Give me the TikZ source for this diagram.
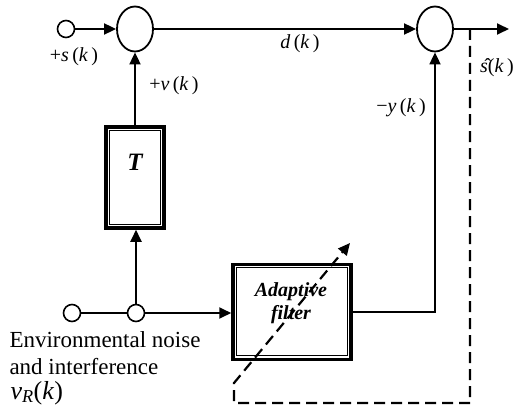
\documentclass[tikz,border=0pt]{standalone}
\usepackage{fontspec}
\setmainfont{Liberation Serif}
\usetikzlibrary{shapes.geometric, arrows.meta, positioning, calc}
\tikzset{
  port/.style={draw, circle, line width=1.6pt, minimum size=17pt, inner sep=0pt},
  adder/.style={draw, ellipse, line width=1.8pt, minimum width=36pt, minimum height=45pt, inner sep=0pt},
  block/.style={draw, line width=3.5pt, inner sep=0pt},
  arrow/.style={-{Triangle[length=12pt,width=11pt]}, line width=1.8pt},
  wire/.style={line width=1.8pt},
  adapt/.style={dash pattern=on 11pt off 6pt, line width=2.2pt},
  sig/.style={font=\fontsize{20}{24}\selectfont},
}

\begin{document}
\begin{tikzpicture}[x=1pt, y=-1pt]
\useasboundingbox (0,0) rectangle (517,420);
% top row
\node[port] (src) at (66,29) {};
\node[adder] (sum1) at (135,29) {};
\node[adder] (sum2) at (435,29) {};
\coordinate (tap) at (470,29);
\coordinate (out) at (509,29);
% blocks
\node[block, minimum width=58pt, minimum height=101pt] (T) at (135,177.5) {};
\draw[line width=1.2pt] ([shift={(5.5,5.5)}]T.north west) rectangle ([shift={(-5.5,-5.5)}]T.south east);
\node[font=\fontsize{25}{28}\selectfont\bfseries\itshape] (Tlab) at (135,162) {T};
\node[block, minimum width=118pt, minimum height=95pt] (filter) at (292,312) {};
\draw[line width=1.2pt] ([shift={(5,5)}]filter.north west) rectangle ([shift={(-5,-6)}]filter.south east);
\node[font=\fontsize{20}{23}\selectfont\bfseries\itshape, align=center] (filtlab) at (291,303) {Adaptive\\filter};
% bottom row
\node[port] (env) at (72,313) {};
\node[port] (junc) at (136,313) {};
% connectors
\draw[arrow] (src) -- (sum1);
\draw[arrow] (sum1) -- (sum2);
\draw[arrow] (sum2) -- (out);
\draw[wire] (env) -- (junc);
\draw[arrow] (junc) -- (junc |- T.south);
\draw[arrow] (T.north) -- (T.north |- sum1.south);
\draw[arrow] (junc) -- (filter.west |- junc);
\draw[arrow] (filter.east) -| (sum2.south);
% adaptation path
\draw[adapt, -{Triangle[length=12pt,width=11pt]}] (tap) -- (470,403) -- (234,403) -- (234,383) -- (350,243);
% labels
\node[sig] (slab) at (74,57) {+\textit{s}\,(\textit{k}\,)};
\node[sig] (vlab) at (174,86) {+\textit{v}\,(\textit{k}\,)};
\node[sig] (dlab) at (300,44) {\textit{d}\,(\textit{k}\,)};
\node[sig] (shatlab) at (497,68) {\^{\textit{s}}(\textit{k}\,)};
\node[sig] (ylab) at (401,108) {−\textit{y}\,(\textit{k}\,)};
\node[font=\fontsize{23}{27}\selectfont, align=left, anchor=north west] (envlab) at (6,328) {Environmental noise\\and interference};
\node[font=\fontsize{26}{30}\selectfont, anchor=west] (vRlab) at (7,393) {\textit{v}\textsubscript{\textit{R}}(\textit{k})};
\end{tikzpicture}
\end{document}
